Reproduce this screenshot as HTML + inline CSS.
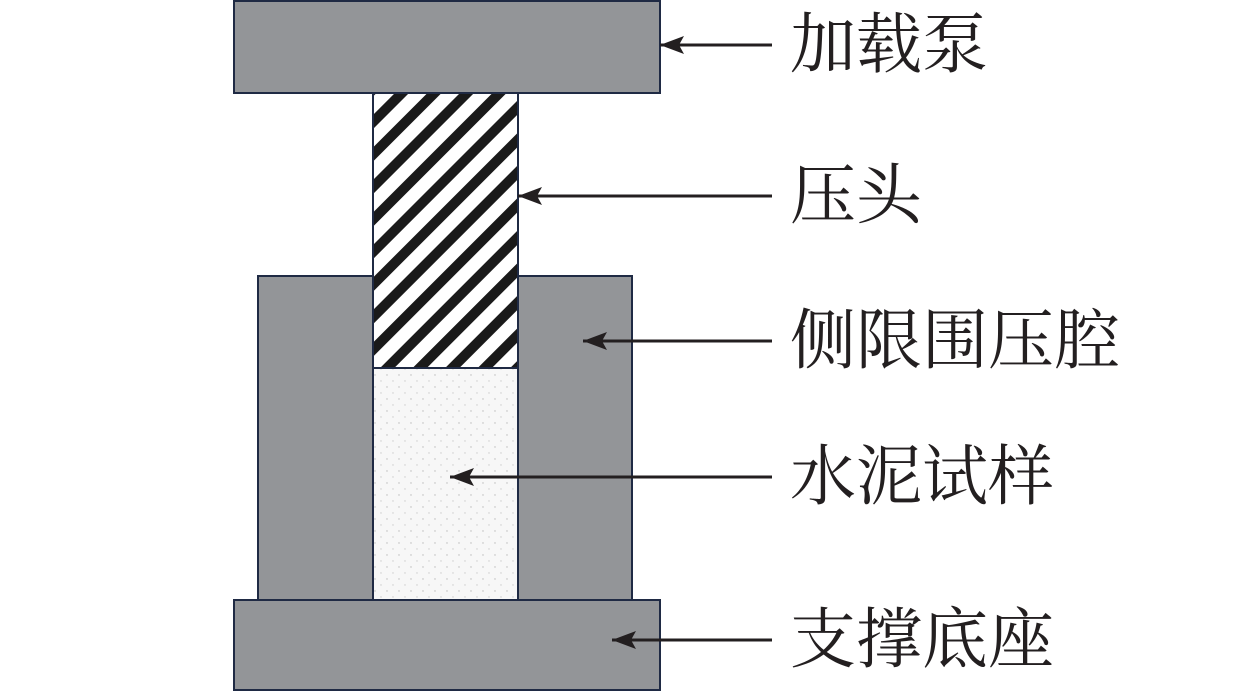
<!DOCTYPE html>
<html><head><meta charset="utf-8"><style>
body{margin:0;background:#fff;}
svg{display:block}
text{font-family:"Liberation Serif","Noto Serif CJK SC",serif;font-size:66px;fill:#231f20}
</style></head><body>
<svg width="1259" height="693" viewBox="0 0 1259 693" xmlns="http://www.w3.org/2000/svg">
<defs>
<pattern id="h" patternUnits="userSpaceOnUse" width="23" height="23" patternTransform="rotate(45)">
<rect x="0" y="0" width="23" height="23" fill="#fff"/>
<rect x="0" y="0" width="10" height="23" fill="#1a1a1a"/>
</pattern>
<pattern id="d" patternUnits="userSpaceOnUse" width="12" height="12">
<rect width="12" height="12" fill="#f7f7f7"/>
<circle cx="3" cy="3" r="0.7" fill="#bbb"/>
<circle cx="9" cy="9" r="0.7" fill="#ccc"/>
</pattern>
<marker id="a" markerWidth="24" markerHeight="18" refX="24" refY="9" orient="auto" markerUnits="userSpaceOnUse">
<path d="M0,0 L24,9 L0,18 L5,9 Z" fill="#231f20"/>
</marker>
</defs>
<g stroke="#1f2a44" stroke-width="2">
<rect x="234" y="1" width="426" height="92" fill="#939598"/>
<rect x="258" y="276" width="115" height="324" fill="#939598"/>
<rect x="518" y="276" width="114" height="324" fill="#939598"/>
<rect x="373" y="93" width="145" height="275" fill="url(#h)"/>
<rect x="373" y="368" width="145" height="232" fill="url(#d)"/>
<rect x="234" y="600" width="426" height="90" fill="#939598"/>
</g>
<g stroke="#231f20" stroke-width="3" marker-end="url(#a)">
<line x1="772" y1="45" x2="660" y2="45"/>
<line x1="772" y1="196" x2="518" y2="196"/>
<line x1="772" y1="341" x2="583" y2="341"/>
<line x1="772" y1="477" x2="450" y2="477"/>
<line x1="772" y1="640" x2="612" y2="640"/>
</g>
<text x="790" y="67">加载泵</text>
<text x="790" y="218">压头</text>
<text x="790" y="363">侧限围压腔</text>
<text x="790" y="499">水泥试样</text>
<text x="790" y="662">支撑底座</text>
</svg>
</body></html>
